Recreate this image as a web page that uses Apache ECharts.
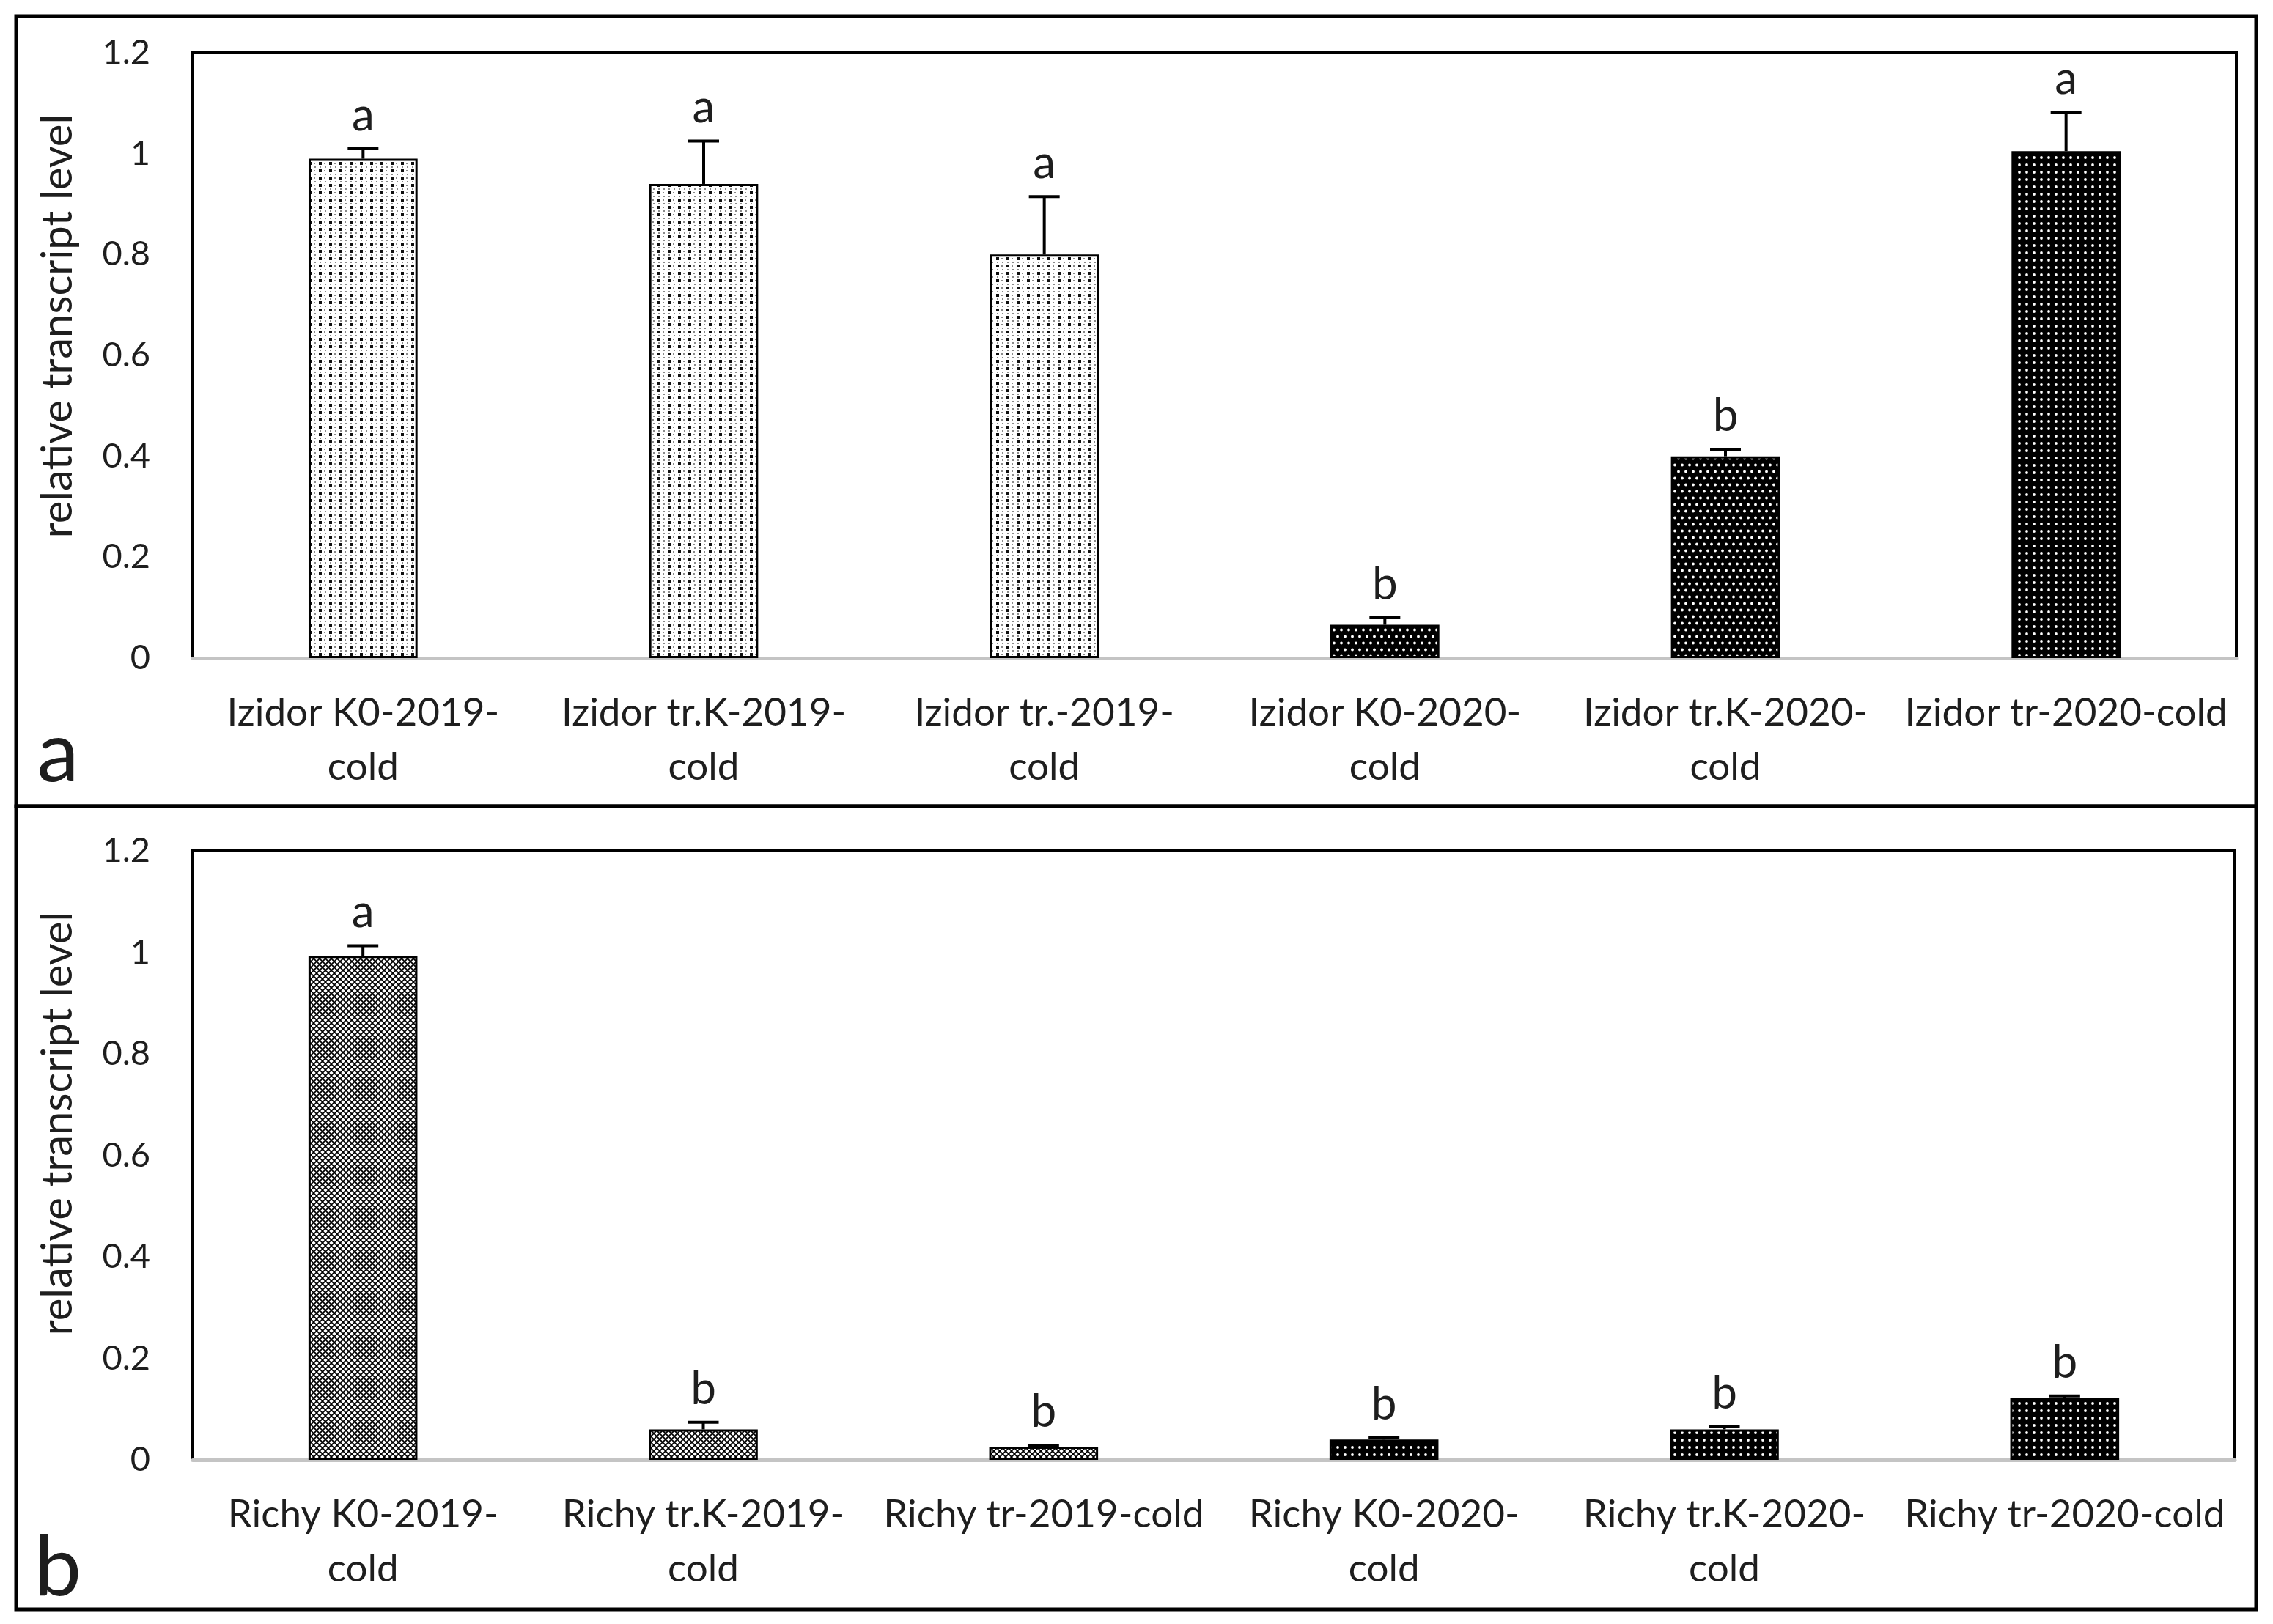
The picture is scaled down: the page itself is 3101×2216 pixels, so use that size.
<!DOCTYPE html>
<html>
<head>
<meta charset="utf-8">
<script src="https://cdn.jsdelivr.net/npm/echarts@6/dist/echarts.min.js"></script>
<style>
html,body{margin:0;padding:0;background:#fff;}
#chart{width:3101px;height:2216px;}
</style>
</head>
<body>
<div id="chart"></div>
<script>
// ---------- data ----------
const categoriesA = ['Izidor K0-2019-\ncold', 'Izidor tr.K-2019-\ncold', 'Izidor tr.-2019-\ncold', 'Izidor K0-2020-\ncold', 'Izidor tr.K-2020-\ncold', 'Izidor tr-2020-cold'];
const valuesA = [0.99, 0.94, 0.80, 0.066, 0.40, 1.005];
const errorsA = [0.02, 0.085, 0.115, 0.014, 0.014, 0.077];
const lettersA = ['a', 'a', 'a', 'b', 'b', 'a'];

const categoriesB = ['Richy K0-2019-\ncold', 'Richy tr.K-2019-\ncold', 'Richy tr-2019-cold', 'Richy K0-2020-\ncold', 'Richy tr.K-2020-\ncold', 'Richy tr-2020-cold'];
const valuesB = [0.993, 0.06, 0.026, 0.04, 0.06, 0.122];
const errorsB = [0.02, 0.014, 0.003, 0.004, 0.005, 0.004];
const lettersB = ['a', 'b', 'b', 'b', 'b', 'b'];

const yTickLabels = ['0', '0.2', '0.4', '0.6', '0.8', '1', '1.2'];
const yTitle = 'relative transcript level';

// ---------- patterns ----------
function tile(w, h, draw) {
  const c = document.createElement('canvas');
  c.width = w; c.height = h;
  const ctx = c.getContext('2d');
  draw(ctx);
  return { image: c, repeat: 'repeat' };
}
const lightDots = tile(14, 10, ctx => {
  ctx.fillStyle = '#fff'; ctx.fillRect(0, 0, 14, 10);
  ctx.fillStyle = '#111'; ctx.fillRect(1, 1, 4, 4);
  ctx.fillStyle = '#8a8a8a'; ctx.fillRect(8, 2, 2, 2);
  ctx.fillRect(2, 7, 2, 2); ctx.fillRect(9, 7, 2, 2);
});
const darkDotsHex = tile(10, 18, ctx => {
  ctx.fillStyle = '#000'; ctx.fillRect(0, 0, 10, 18);
  ctx.fillStyle = '#fff';
  [[5, 4.5], [0, 13.5], [10, 13.5]].forEach(p => { ctx.beginPath(); ctx.arc(p[0], p[1], 1.9, 0, Math.PI * 2); ctx.fill(); });
});
const darkDotsGrid = tile(10, 10, ctx => {
  ctx.fillStyle = '#000'; ctx.fillRect(0, 0, 10, 10);
  ctx.fillStyle = '#fff';
  ctx.beginPath(); ctx.arc(5, 5, 1.9, 0, Math.PI * 2); ctx.fill();
});
const crossHatch = tile(8, 8, ctx => {
  ctx.fillStyle = '#fff'; ctx.fillRect(0, 0, 8, 8);
  ctx.strokeStyle = '#000'; ctx.lineWidth = 1.8;
  ctx.beginPath(); ctx.moveTo(-1, -1); ctx.lineTo(9, 9); ctx.moveTo(9, -1); ctx.lineTo(-1, 9); ctx.stroke();
});
const patternsA = [lightDots, lightDots, lightDots, darkDotsHex, darkDotsHex, darkDotsGrid];
const patternsB = [crossHatch, crossHatch, crossHatch, darkDotsGrid, darkDotsGrid, darkDotsGrid];

// ---------- styles ----------
const FONT = 'Lato, "Open Sans", sans-serif';
const TXT = '#1e1e1e';

function barData(values, patterns) {
  return values.map((v, i) => ({ value: v, itemStyle: { color: patterns[i], borderColor: '#000', borderWidth: 3 } }));
}
function errData(values, errors) {
  return values.map((v, i) => [i, v, errors[i]]);
}
function errRender(letters) {
  return function (params, api) {
    const i = params.dataIndex;
    const x = api.value(0), v = api.value(1), e = api.value(2);
    const p0 = api.coord([x, v]);
    const p1 = api.coord([x, v + e]);
    const cap = 21;
    return {
      type: 'group',
      children: [
        { type: 'line', shape: { x1: p0[0], y1: p0[1], x2: p1[0], y2: p1[1] }, style: { stroke: '#000', lineWidth: 4 } },
        { type: 'line', shape: { x1: p1[0] - cap, y1: p1[1], x2: p1[0] + cap, y2: p1[1] }, style: { stroke: '#000', lineWidth: 4 } },
        { type: 'text', x: p1[0], y: p1[1] - 14,
          style: { text: letters[i], fill: TXT, font: '62px ' + FONT, align: 'center', verticalAlign: 'bottom', textAlign: 'center', textVerticalAlign: 'bottom' } }
      ]
    };
  };
}
function xAxis(gridIndex, cats) {
  return {
    type: 'category', gridIndex, data: cats,
    axisTick: { show: false },
    axisLine: { lineStyle: { color: '#c4c4c4', width: 5 } },
    axisLabel: { color: TXT, fontFamily: FONT, fontSize: 53, lineHeight: 74, margin: 38, interval: 0 }
  };
}
function yAxis(gridIndex) {
  return {
    type: 'value', gridIndex, min: 0, max: 1.2, interval: 0.2,
    axisLine: { show: false }, axisTick: { show: false }, splitLine: { show: false },
    axisLabel: { color: TXT, fontFamily: FONT, fontSize: 47, margin: 58,
      formatter: (val) => yTickLabels[Math.round(val / 0.2)] }
  };
}

const chart = echarts.init(document.getElementById('chart'), null, { renderer: 'canvas' });
chart.setOption({
  backgroundColor: '#fff',
  animation: false,
  grid: [
    { left: 263, right: 50, top: 72, bottom: 1318, show: true, borderColor: '#000', borderWidth: 4, backgroundColor: 'transparent' },
    { left: 263, right: 52, top: 1161, bottom: 224, show: true, borderColor: '#000', borderWidth: 4, backgroundColor: 'transparent' }
  ],
  xAxis: [xAxis(0, categoriesA), xAxis(1, categoriesB)],
  yAxis: [yAxis(0), yAxis(1)],
  series: [
    { type: 'bar', xAxisIndex: 0, yAxisIndex: 0, barWidth: '32%', data: barData(valuesA, patternsA), z: 2 },
    { type: 'custom', xAxisIndex: 0, yAxisIndex: 0, data: errData(valuesA, errorsA), encode: { x: 0, y: 1 }, renderItem: errRender(lettersA), z: 3 },
    { type: 'bar', xAxisIndex: 1, yAxisIndex: 1, barWidth: '32%', data: barData(valuesB, patternsB), z: 2 },
    { type: 'custom', xAxisIndex: 1, yAxisIndex: 1, data: errData(valuesB, errorsB), encode: { x: 0, y: 1 }, renderItem: errRender(lettersB), z: 3 }
  ],
  graphic: [
    { type: 'rect', shape: { x: 22, y: 22, width: 3056, height: 1078 }, style: { fill: 'none', stroke: '#000', lineWidth: 5 }, silent: true },
    { type: 'rect', shape: { x: 22, y: 1100, width: 3056, height: 1096 }, style: { fill: 'none', stroke: '#000', lineWidth: 5 }, silent: true },
    { type: 'text', x: 79, y: 445, rotation: Math.PI / 2, style: { text: yTitle, fill: TXT, font: '58px ' + FONT, align: 'center', verticalAlign: 'middle', textAlign: 'center', textVerticalAlign: 'middle' } },
    { type: 'text', x: 79, y: 1533, rotation: Math.PI / 2, style: { text: yTitle, fill: TXT, font: '58px ' + FONT, align: 'center', verticalAlign: 'middle', textAlign: 'center', textVerticalAlign: 'middle' } },
    { type: 'text', x: 79, y: 1029, style: { text: 'a', fill: TXT, font: '115px ' + FONT, align: 'center', verticalAlign: 'middle', textAlign: 'center', textVerticalAlign: 'middle' } },
    { type: 'text', x: 79, y: 2140, style: { text: 'b', fill: TXT, font: '115px ' + FONT, align: 'center', verticalAlign: 'middle', textAlign: 'center', textVerticalAlign: 'middle' } }
  ]
});
</script>
</body>
</html>
